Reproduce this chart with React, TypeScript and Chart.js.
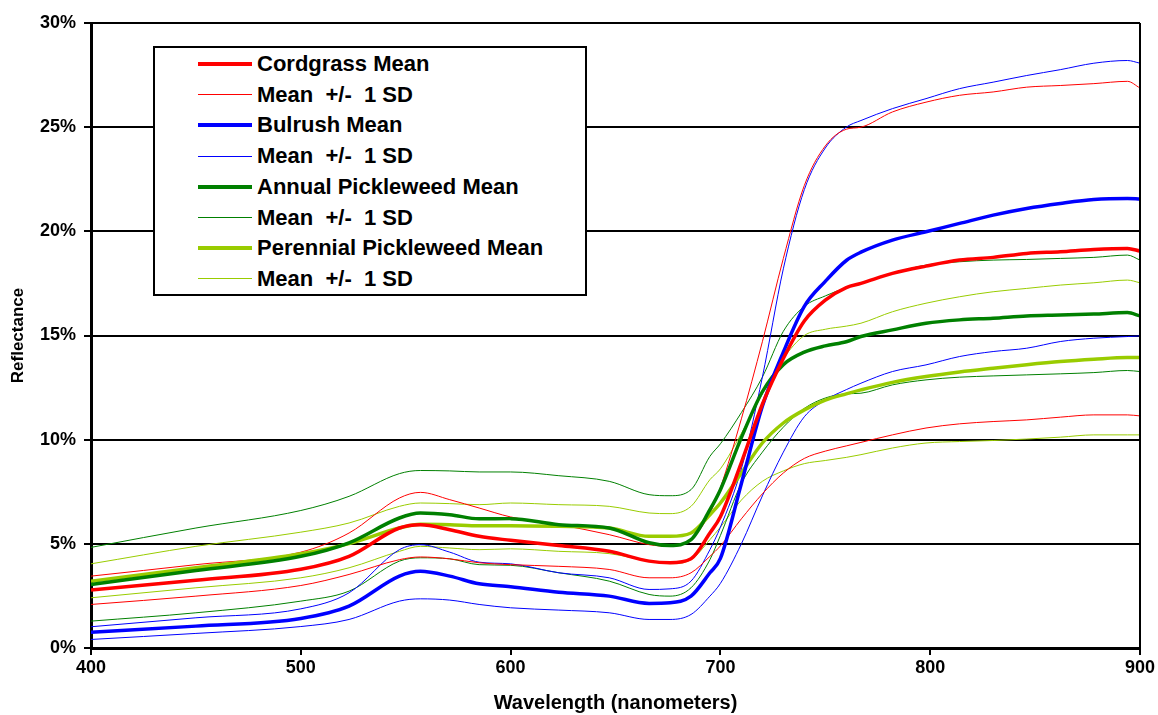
import React, { useEffect, useRef } from "react";
import { Chart, registerables } from "chart.js";

Chart.register(...registerables);

const wavelengths = [400, 450, 500, 523, 547, 557, 571, 585, 600, 623, 647, 666, 676, 686, 695, 700, 710, 720, 730, 740, 750, 760, 767, 782, 798, 814, 830, 846, 862, 878, 894, 900];

const cordgrassMean = [2.78, 3.25, 3.78, 4.4, 5.76, 5.92, 5.68, 5.36, 5.17, 4.92, 4.64, 4.17, 4.09, 4.28, 5.52, 6.3, 8.9, 11.7, 13.9, 15.7, 16.7, 17.3, 17.5, 17.98, 18.33, 18.62, 18.75, 18.94, 19.02, 19.13, 19.18, 19.05];
const cordgrassUpper = [3.45, 4.0, 4.6, 5.52, 7.2, 7.47, 7.12, 6.72, 6.29, 5.92, 5.44, 4.96, 4.88, 5.2, 6.48, 7.7, 11.0, 14.7, 18.7, 22.2, 24.1, 24.9, 25.0, 25.73, 26.2, 26.53, 26.69, 26.92, 27.0, 27.09, 27.2, 26.88];
const cordgrassLower = [2.09, 2.49, 3.0, 3.53, 4.24, 4.37, 4.28, 4.09, 4.0, 3.92, 3.77, 3.37, 3.37, 3.61, 4.4, 4.9, 6.2, 7.4, 8.4, 9.1, 9.45, 9.7, 9.87, 10.23, 10.56, 10.76, 10.87, 10.95, 11.08, 11.19, 11.19, 11.14];

const bulrushMean = [0.76, 1.05, 1.42, 2.01, 3.45, 3.68, 3.45, 3.08, 2.94, 2.68, 2.49, 2.14, 2.17, 2.49, 3.61, 4.3, 7.9, 11.6, 14.2, 16.4, 17.6, 18.6, 19.0, 19.58, 19.98, 20.38, 20.78, 21.1, 21.34, 21.53, 21.58, 21.55];
const bulrushUpper = [1.02, 1.45, 1.88, 2.65, 4.72, 4.96, 4.6, 4.12, 4.04, 3.61, 3.37, 2.81, 2.84, 3.21, 4.72, 5.8, 8.6, 13.0, 18.2, 22.0, 24.0, 25.0, 25.32, 25.89, 26.37, 26.85, 27.16, 27.48, 27.76, 28.07, 28.2, 28.07];
const bulrushLower = [0.41, 0.7, 1.03, 1.37, 2.25, 2.36, 2.3, 2.09, 1.93, 1.82, 1.69, 1.37, 1.37, 1.61, 2.49, 3.1, 5.0, 7.3, 9.4, 11.1, 11.9, 12.4, 12.71, 13.27, 13.59, 13.99, 14.23, 14.39, 14.71, 14.87, 14.95, 14.98];

const annualMean = [3.05, 3.72, 4.4, 5.05, 6.24, 6.48, 6.4, 6.2, 6.21, 5.92, 5.76, 5.05, 4.92, 5.2, 6.64, 7.6, 10.1, 12.3, 13.6, 14.2, 14.5, 14.7, 14.95, 15.27, 15.59, 15.75, 15.83, 15.94, 15.98, 16.03, 16.1, 15.94];
const annualUpper = [4.83, 5.76, 6.6, 7.28, 8.37, 8.52, 8.5, 8.45, 8.45, 8.27, 8.0, 7.36, 7.31, 7.6, 9.2, 9.8, 11.3, 13.0, 15.2, 16.4, 16.9, 17.3, 17.5, 17.98, 18.38, 18.54, 18.62, 18.65, 18.7, 18.75, 18.86, 18.62];
const annualLower = [1.29, 1.69, 2.25, 2.73, 4.17, 4.33, 4.28, 4.0, 3.97, 3.61, 3.21, 2.57, 2.49, 2.89, 4.24, 5.4, 7.9, 9.4, 10.6, 11.5, 12.0, 12.2, 12.23, 12.63, 12.87, 13.0, 13.06, 13.11, 13.16, 13.22, 13.32, 13.27];

const perennialMean = [3.2, 3.85, 4.52, 5.01, 5.76, 5.94, 5.92, 5.87, 5.87, 5.84, 5.76, 5.36, 5.36, 5.52, 6.4, 6.96, 8.4, 9.84, 10.8, 11.43, 11.9, 12.2, 12.39, 12.75, 13.03, 13.25, 13.43, 13.6, 13.75, 13.86, 13.94, 13.94];
const perennialUpper = [4.04, 4.88, 5.56, 6.0, 6.8, 6.96, 6.93, 6.88, 6.96, 6.88, 6.8, 6.48, 6.45, 6.8, 8.08, 8.6, 10.3, 12.2, 13.9, 15.0, 15.3, 15.45, 15.59, 16.14, 16.55, 16.86, 17.1, 17.26, 17.42, 17.53, 17.66, 17.53];
const perennialLower = [2.41, 2.89, 3.37, 3.85, 4.64, 4.88, 4.8, 4.72, 4.76, 4.64, 4.53, 4.17, 4.05, 4.24, 5.2, 5.8, 7.1, 8.0, 8.5, 8.85, 9.0, 9.15, 9.28, 9.6, 9.84, 9.91, 9.96, 10.03, 10.12, 10.23, 10.23, 10.23];

const yTicks = [0, 5, 10, 15, 20, 25, 30];
const xTicks = [400, 500, 600, 700, 800, 900];

const RED = "#FF0000";
const BLUE = "#0000FF";
const GREEN = "#008000";
const LIME = "#99CC00";
const FONT = "'Liberation Sans', Arial, sans-serif";

const legendRows = [
  { label: "Cordgrass Mean", color: RED, w: 4 },
  { label: "Mean  +/-  1 SD", color: RED, w: 1 },
  { label: "Bulrush Mean", color: BLUE, w: 4 },
  { label: "Mean  +/-  1 SD", color: BLUE, w: 1 },
  { label: "Annual Pickleweed Mean", color: GREEN, w: 4 },
  { label: "Mean  +/-  1 SD", color: GREEN, w: 1 },
  { label: "Perennial Pickleweed Mean", color: LIME, w: 4 },
  { label: "Mean  +/-  1 SD", color: LIME, w: 1 },
];

function toPts(vals: number[]) {
  return wavelengths.map((x, i) => ({ x, y: vals[i] }));
}

function mk(label: string, vals: number[], color: string, thick: boolean) {
  return {
    label,
    data: toPts(vals),
    borderColor: color,
    backgroundColor: color,
    borderWidth: thick ? 3.5 : 1,
    pointRadius: 0,
    fill: false,
    cubicInterpolationMode: "monotone" as const,
    order: thick ? 0 : 1,
  };
}

const rightBorder = {
  id: "rightBorder",
  afterDraw(chart: any) {
    const { ctx, chartArea } = chart;
    ctx.save();
    ctx.strokeStyle = "#000";
    ctx.lineWidth = 2;
    ctx.beginPath();
    ctx.moveTo(chartArea.right, chartArea.top);
    ctx.lineTo(chartArea.right, chartArea.bottom);
    ctx.stroke();
    ctx.restore();
  },
};

export default function App() {
  const ref = useRef<HTMLCanvasElement>(null);
  useEffect(() => {
    if (!ref.current) return;
    const chart = new Chart(ref.current, {
      type: "line",
      data: {
        datasets: [
          mk("Cordgrass Mean", cordgrassMean, RED, true),
          mk("Cordgrass +1 SD", cordgrassUpper, RED, false),
          mk("Cordgrass -1 SD", cordgrassLower, RED, false),
          mk("Bulrush Mean", bulrushMean, BLUE, true),
          mk("Bulrush +1 SD", bulrushUpper, BLUE, false),
          mk("Bulrush -1 SD", bulrushLower, BLUE, false),
          mk("Annual Pickleweed Mean", annualMean, GREEN, true),
          mk("Annual Pickleweed +1 SD", annualUpper, GREEN, false),
          mk("Annual Pickleweed -1 SD", annualLower, GREEN, false),
          mk("Perennial Pickleweed Mean", perennialMean, LIME, true),
          mk("Perennial Pickleweed +1 SD", perennialUpper, LIME, false),
          mk("Perennial Pickleweed -1 SD", perennialLower, LIME, false),
        ],
      },
      options: {
        animation: false,
        responsive: false,
        layout: { padding: { top: 23, right: 18, left: 0, bottom: 0 } },
        plugins: { legend: { display: false }, tooltip: { enabled: false } },
        scales: {
          x: {
            type: "linear",
            min: 400,
            max: 900,
            afterBuildTicks: (s: any) => { s.ticks = xTicks.map((v) => ({ value: v })); },
            afterFit: (s: any) => { s.height = 67; },
            grid: { drawOnChartArea: false, drawTicks: true, tickLength: 7, color: "#000", lineWidth: 2 },
            border: { display: true, color: "#000", width: 3 },
            ticks: { color: "#000", font: { family: FONT, size: 18, weight: "bold" }, padding: 2, maxRotation: 0 },
            title: { display: true, text: "Wavelength (nanometers)", color: "#000", font: { family: FONT, size: 20, weight: "bold" }, padding: { top: 5, bottom: 0 } },
          },
          y: {
            min: 0,
            max: 30,
            afterBuildTicks: (s: any) => { s.ticks = yTicks.map((v) => ({ value: v })); },
            afterFit: (s: any) => { s.width = 91; },
            grid: { color: "#000", lineWidth: 2, tickLength: 7 },
            border: { display: true, color: "#000", width: 3 },
            ticks: { color: "#000", font: { family: FONT, size: 18, weight: "bold" }, padding: 8, callback: (v: any) => v + "%" },
            title: { display: true, text: "Reflectance", color: "#000", font: { family: FONT, size: 17, weight: "bold" }, padding: { top: 8, bottom: 2 } },
          },
        },
      },
      plugins: [rightBorder],
    } as any);
    return () => chart.destroy();
  }, []);

  return (
    <div style={{ position: "fixed", left: 0, top: 0, width: 1158, height: 715, background: "#fff" }}>
      <canvas ref={ref} width={1158} height={715} style={{ display: "block" }} />
      <div
        style={{
          position: "absolute",
          left: 153,
          top: 46,
          width: 434,
          height: 250,
          border: "2px solid #000",
          boxSizing: "border-box",
          background: "#fff",
          fontFamily: FONT,
          fontWeight: "bold",
          fontSize: 22,
          color: "#000",
        }}
      >
        {legendRows.map((r, i) => (
          <div key={i} style={{ position: "absolute", left: 0, top: 16 + i * 30.7 - 15, height: 30, display: "flex", alignItems: "center" }}>
            <div style={{ marginLeft: 43, width: 54, height: r.w, background: r.color }} />
            <span style={{ marginLeft: 5, whiteSpace: "pre", lineHeight: "30px" }}>{r.label}</span>
          </div>
        ))}
      </div>
    </div>
  );
}
